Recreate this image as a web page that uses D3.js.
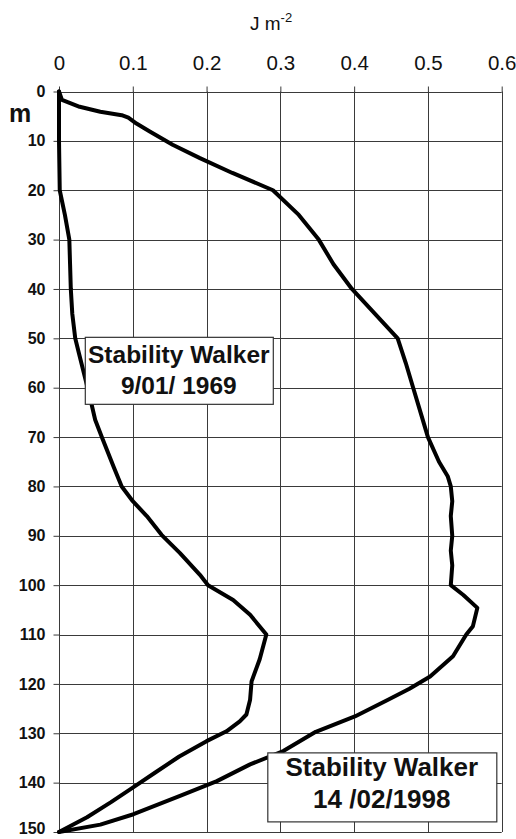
<!DOCTYPE html>
<html>
<head>
<meta charset="utf-8">
<script src="https://cdn.jsdelivr.net/npm/d3@7"></script>
<style>
	body { margin: 0; background: #fff; }
	svg { display: block; font-family: "Liberation Sans", Arial, sans-serif; }
</style>
</head>
<body>
<div id="chart"></div>
<script>
// depth (m) and energy (J m-2)
var outerDepth = [0, 1.7, 3.1, 4.1, 4.8, 5.3, 6.5, 8.1, 10.8, 13.5, 16.5, 20, 25, 30, 35, 40, 45, 50, 55, 60, 65, 70, 75, 78, 80, 83, 86, 90, 93, 96, 100, 102, 104.6, 108.3, 110, 114.4, 118.5, 121, 123.2, 126.6, 129.7, 133.6, 136.3, 139.7, 142.7, 146.4, 148.5, 150];
var outerEnergy = [0, 0.004, 0.028, 0.056, 0.085, 0.094, 0.105, 0.123, 0.154, 0.191, 0.235, 0.29, 0.325, 0.352, 0.372, 0.397, 0.428, 0.459, 0.47, 0.48, 0.49, 0.5, 0.515, 0.527, 0.531, 0.533, 0.531, 0.533, 0.531, 0.533, 0.531, 0.548, 0.567, 0.561, 0.552, 0.534, 0.503, 0.475, 0.446, 0.401, 0.348, 0.304, 0.259, 0.214, 0.164, 0.101, 0.056, 0];

var innerDepth = [0, 10, 20, 25, 30, 35, 40, 45, 50, 53, 58.4, 62, 66.5, 70, 76, 80, 83, 86, 89.8, 93.5, 97.9, 100, 103, 106, 110, 115, 119.5, 123.2, 126.2, 127.6, 129.6, 131.6, 134.7, 138, 141, 144, 147, 150];
var innerEnergy = [0, 0, 0.001, 0.008, 0.014, 0.015, 0.016, 0.018, 0.022, 0.027, 0.036, 0.042, 0.049, 0.058, 0.074, 0.085, 0.1, 0.119, 0.139, 0.164, 0.191, 0.202, 0.236, 0.259, 0.281, 0.272, 0.261, 0.259, 0.254, 0.245, 0.227, 0.2, 0.163, 0.13, 0.1, 0.07, 0.038, 0];

var xTicks = [0, 0.1, 0.2, 0.3, 0.4, 0.5, 0.6];
var yTicks = [0, 10, 20, 30, 40, 50, 60, 70, 80, 90, 100, 110, 120, 130, 140, 150];

var labels = [
	{ lines: ["Stability Walker", "9/01/ 1969"], depth: 50, energy: 0.016 },
	{ lines: ["Stability Walker", "14 /02/1998"], depth: 136, energy: 0.283 }
];

(function(){
	var width = 516, height = 839;
	var margin = { top: 91.5, left: 59, right: 14.3, bottom: 7 };

	var svg = d3.select("#chart").append("svg")
		.attr("width", width)
		.attr("height", height);

	var x = d3.scaleLinear().domain([0, 0.6]).range([margin.left, width - margin.right]);
	var y = d3.scaleLinear().domain([0, 150]).range([margin.top, height - margin.bottom]);

	// grid
	var grid = svg.append("g").attr("stroke", "#3a3a3a").attr("stroke-width", 1);
	grid.selectAll("line.v").data(xTicks).enter().append("line")
		.attr("x1", d => Math.round(x(d)) + 0.5).attr("x2", d => Math.round(x(d)) + 0.5)
		.attr("y1", y(0)).attr("y2", y(150));
	grid.selectAll("line.h").data(yTicks).enter().append("line")
		.attr("x1", x(0)).attr("x2", x(0.6))
		.attr("y1", d => Math.round(y(d)) + 0.5).attr("y2", d => Math.round(y(d)) + 0.5);

	// top axis
	var top = svg.append("g")
		.attr("transform", "translate(0," + (Math.round(y(0)) + 0.5) + ")")
		.call(d3.axisTop(x).tickValues(xTicks).tickFormat(d => d === 0 ? "0" : d3.format(".1f")(d)).tickSize(6).tickPadding(17).tickSizeOuter(0));
	top.select(".domain").remove();
	top.selectAll(".tick line").attr("stroke", "#3a3a3a");
	top.selectAll("text").attr("font-size", 20.5).attr("fill", "#111")
		.attr("font-family", "Liberation Sans, Arial, sans-serif");

	// left axis
	var left = svg.append("g")
		.attr("transform", "translate(" + (Math.round(x(0)) + 0.5) + ",0)")
		.call(d3.axisLeft(y).tickValues(yTicks).tickSize(6).tickPadding(8).tickSizeOuter(0));
	left.select(".domain").remove();
	left.selectAll(".tick line").attr("stroke", "#3a3a3a");
	left.selectAll("text").attr("font-size", 16).attr("font-weight", "bold").attr("fill", "#111")
		.attr("font-family", "Liberation Sans, Arial, sans-serif");
	// last label sits on the bottom edge, nudge it up a little
	left.selectAll("text").filter(d => d === 150).attr("dy", "0.12em");

	// units
	var t = svg.append("text").attr("x", 250).attr("y", 30)
		.attr("font-size", 19).attr("fill", "#111");
	t.append("tspan").text("J m");
	t.append("tspan").attr("font-size", 13).attr("dy", -8).text("-2");

	svg.append("text").attr("x", 9).attr("y", 122)
		.attr("font-size", 25).attr("font-weight", "bold").attr("fill", "#111").text("m");

	// profiles
	var line = d3.line().x(d => x(d[1])).y(d => y(d[0]));
	var series = [d3.zip(outerDepth, outerEnergy), d3.zip(innerDepth, innerEnergy)];
	svg.selectAll("path.profile").data(series).enter().append("path")
		.attr("class", "profile")
		.attr("d", line)
		.attr("fill", "none")
		.attr("stroke", "#000")
		.attr("stroke-width", 4)
		.attr("stroke-linejoin", "round")
		.attr("stroke-linecap", "round");

	// label boxes
	var boxSizes = [{ w: 188, h: 67, fs: 24.5 }, { w: 229, h: 69, fs: 26 }];
	labels.forEach(function(lb, i){
		var bx = x(lb.energy) + 14, by = y(lb.depth) - 1.5;
		if (i === 1) { by = y(lb.depth) - 10.5; bx = x(lb.energy) - 0.5; }
		var b = boxSizes[i];
		var g = svg.append("g").attr("transform", "translate(" + bx + "," + by + ")");
		g.append("rect").attr("x", 0.5).attr("y", 0.5).attr("width", b.w).attr("height", b.h)
			.attr("fill", "#fff").attr("stroke", "#333").attr("stroke-width", 1.2);
		lb.lines.forEach(function(s, j){
			g.append("text").attr("x", b.w / 2).attr("y", (i === 0 ? 26 : 24) + j * 31.5)
				.attr("text-anchor", "middle").attr("font-size", b.fs).attr("font-weight", "bold")
				.attr("fill", "#111").text(s);
		});
	});
})();
</script>
</body>
</html>
